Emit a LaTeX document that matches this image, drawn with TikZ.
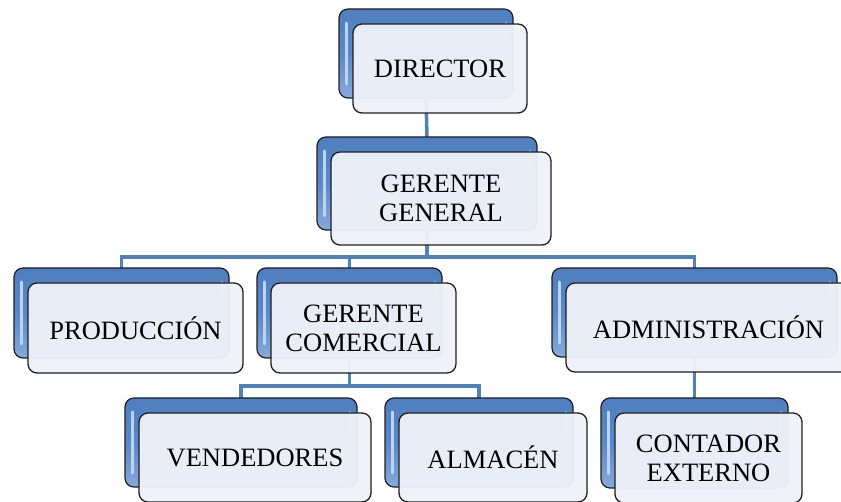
\documentclass[tikz,border=0pt]{standalone}
\usepackage{fontspec}
\setmainfont{Liberation Serif}
\pgfdeclarelayer{bg}
\pgfsetlayers{bg,main}
\definecolor{linkblue}{HTML}{4F81BD}
\definecolor{boxtop}{HTML}{4F7FC0}
\definecolor{boxmid}{HTML}{5A88C7}
\definecolor{boxbot}{HTML}{86AADB}
\definecolor{shine}{HTML}{BCD4F2}
\definecolor{frontfill}{HTML}{EEF1F8}
\definecolor{edge}{HTML}{1E1E1E}
\tikzset{
  backbox/.style={draw=edge, line width=1.2pt, rounded corners=9pt,
    top color=boxtop, bottom color=boxbot, middle color=boxmid,
    inner sep=0pt, outer sep=0pt,
    path picture={
      \draw[shine, line width=3pt, line cap=round]
        ([xshift=7pt,yshift=-14pt]path picture bounding box.north west) --
        ([xshift=7pt,yshift=14pt]path picture bounding box.south west);
      \draw[shine!70!boxmid, line width=2pt, line cap=round]
        ([xshift=-7pt,yshift=-14pt]path picture bounding box.north east) --
        ([xshift=-7pt,yshift=-34pt]path picture bounding box.north east);
    }},
  frontbox/.style={draw=edge, line width=1.3pt, rounded corners=9pt,
    fill=frontfill, fill opacity=0.96, text opacity=1,
    inner sep=0pt, outer sep=0pt, align=center,
    font=\fontsize{26.5}{29}\selectfont},
  conn/.style={draw=linkblue, line width=3.5pt}
}
\newcommand{\orgunit}[6]{%
  \node[backbox, minimum width=#4pt, minimum height=#5pt] (#1) at (#2,#3) {};
  \node[frontbox, minimum width=#4pt, minimum height=#5pt] (#1-f) at (#2+14,#3+15) {#6};
}
\begin{document}
\begin{tikzpicture}[x=1pt,y=-1pt]
\useasboundingbox (0,0) rectangle (841,502);
\orgunit{dir}{426}{53.5}{174}{89}{DIRECTOR}
\orgunit{gg}{427}{183.5}{220}{93}{GERENTE\\GENERAL}
\orgunit{prod}{121.5}{313}{215}{90}{PRODUCCIÓN}
\orgunit{gc}{349.5}{313}{185}{90}{GERENTE\\COMERCIAL}
\orgunit{adm}{694.5}{312.5}{285}{89}{ADMINISTRACIÓN}
\orgunit{ven}{241}{442.5}{232}{89}{VENDEDORES}
\orgunit{alm}{479}{442.5}{188}{89}{ALMACÉN}
\orgunit{cont}{694.5}{443}{187}{90}{CONTADOR\\EXTERNO}
\begin{pgfonlayer}{bg}
  \coordinate (b1) at (427,257);
  \coordinate (b2) at (349.5,386);
  \draw[conn] (dir.south) -- (gg.north);
  \draw[conn] (gg.south) -- (b1);
  \draw[conn] (prod.north) |- (b1) -| (adm.north);
  \draw[conn] (gc.north) -- (gc.north |- b1);
  \draw[conn] (gc.south) -- (b2);
  \draw[conn] (ven.north) |- (b2) -| (alm.north);
  \draw[conn] (adm.south) -- (cont.north);
\end{pgfonlayer}
\end{tikzpicture}
\end{document}
